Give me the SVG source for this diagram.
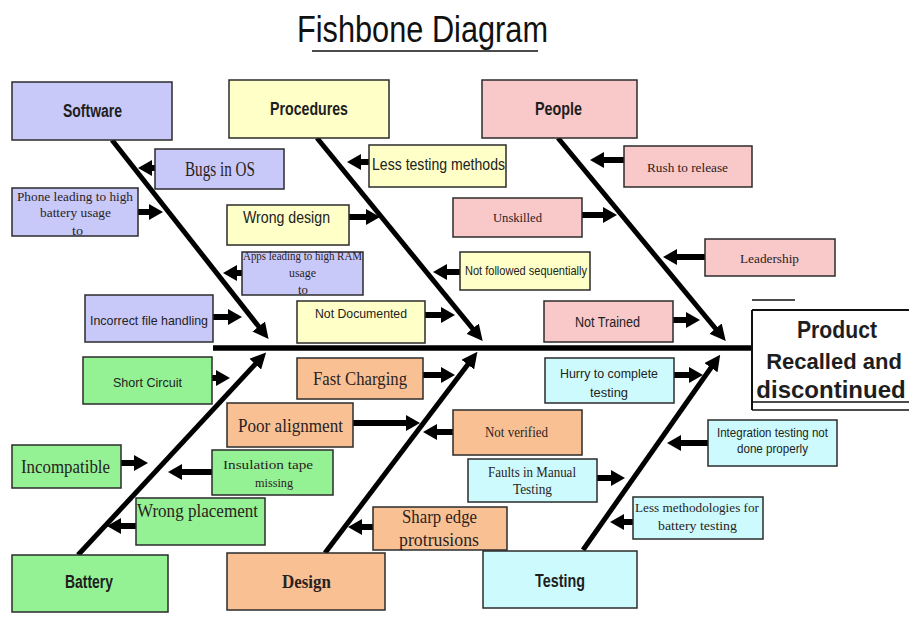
<svg xmlns="http://www.w3.org/2000/svg" width="909" height="627" viewBox="0 0 909 627">
<defs>
<style>
.b{stroke:#2b2b2b;stroke-width:1.5}
.sw{fill:#c9c9f9}.pr{fill:#ffffc8}.pe{fill:#f9c8c8}.ba{fill:#94f294}.de{fill:#f9c193}.te{fill:#cdfbfd}
.h{font-family:"Liberation Sans",Arial,sans-serif;font-weight:bold;font-size:18px;fill:#1e1e1e}
.s{font-family:"Liberation Sans",Arial,sans-serif;fill:#222}
.r{font-family:"Liberation Serif","Times New Roman",serif;fill:#2a2222}
.bone{stroke:#000;stroke-width:5;fill:none}
.arr{stroke:#000;stroke-width:6;fill:none}
</style>
<marker id="hb" viewBox="0 0 16 16" refX="7" refY="8" markerWidth="16" markerHeight="16" markerUnits="userSpaceOnUse" orient="auto"><path d="M0,0 L16,8 L0,16 z" fill="#000"/></marker>
<marker id="ha" viewBox="0 0 14 16" refX="6" refY="8" markerWidth="14" markerHeight="16" markerUnits="userSpaceOnUse" orient="auto"><path d="M0,0 L14,8 L0,16 z" fill="#000"/></marker>
</defs>
<rect width="909" height="627" fill="#fff"/>
<g id="title">
<text x="297" y="42" font-family="'Liberation Sans',Arial,sans-serif" font-size="37" fill="#111" textLength="251" lengthAdjust="spacingAndGlyphs">Fishbone Diagram</text>
<line x1="312" y1="51" x2="538" y2="51" stroke="#111" stroke-width="1.5"/>
</g>
<g id="connectors">
<line class="bone" x1="213" y1="348" x2="752" y2="348" style="stroke-width:5.5"/>
<line class="bone" x1="112" y1="140" x2="263" y2="332" marker-end="url(#hb)"/>
<line class="bone" x1="317" y1="138" x2="477" y2="334" marker-end="url(#hb)"/>
<line class="bone" x1="558" y1="138" x2="720" y2="334" marker-end="url(#hb)"/>
<line class="bone" x1="78" y1="555" x2="260" y2="359" marker-end="url(#hb)"/>
<line class="bone" x1="325" y1="553" x2="472" y2="359" marker-end="url(#hb)"/>
<line class="bone" x1="583" y1="550" x2="715" y2="362" marker-end="url(#hb)"/>
<line class="arr" x1="155" y1="168" x2="146" y2="168" marker-end="url(#ha)"/>
<line class="arr" x1="138" y1="212" x2="155" y2="212" marker-end="url(#ha)"/>
<line class="arr" x1="349" y1="217" x2="372" y2="217" marker-end="url(#ha)"/>
<line class="arr" x1="369" y1="162" x2="355" y2="162" marker-end="url(#ha)"/>
<line class="arr" x1="624" y1="160" x2="598" y2="160" marker-end="url(#ha)"/>
<line class="arr" x1="582" y1="215" x2="609" y2="215" marker-end="url(#ha)"/>
<line class="arr" x1="242" y1="273" x2="231" y2="273" marker-end="url(#ha)"/>
<line class="arr" x1="460" y1="272" x2="441" y2="272" marker-end="url(#ha)"/>
<line class="arr" x1="705" y1="257" x2="671" y2="257" marker-end="url(#ha)"/>
<line class="arr" x1="213" y1="317" x2="234" y2="317" marker-end="url(#ha)"/>
<line class="arr" x1="425" y1="315" x2="447" y2="315" marker-end="url(#ha)"/>
<line class="arr" x1="673" y1="320" x2="692" y2="320" marker-end="url(#ha)"/>
<line class="arr" x1="212" y1="378" x2="222" y2="378" marker-end="url(#ha)"/>
<line class="arr" x1="423" y1="375" x2="447" y2="375" marker-end="url(#ha)"/>
<line class="arr" x1="353" y1="423" x2="412" y2="423" marker-end="url(#ha)"/>
<line class="arr" x1="453" y1="432" x2="431" y2="432" marker-end="url(#ha)"/>
<line class="arr" x1="674" y1="375" x2="695" y2="375" marker-end="url(#ha)"/>
<line class="arr" x1="708" y1="443" x2="675" y2="443" marker-end="url(#ha)"/>
<line class="arr" x1="597" y1="478" x2="617" y2="478" marker-end="url(#ha)"/>
<line class="arr" x1="633" y1="522" x2="618" y2="522" marker-end="url(#ha)"/>
<line class="arr" x1="373" y1="527" x2="356" y2="527" marker-end="url(#ha)"/>
<line class="arr" x1="121" y1="463" x2="140" y2="463" marker-end="url(#ha)"/>
<line class="arr" x1="212" y1="472" x2="176" y2="472" marker-end="url(#ha)"/>
<line class="arr" x1="136" y1="526" x2="115" y2="526" marker-end="url(#ha)"/>
</g>
<g id="effect">
<rect x="752" y="310" width="157" height="92" fill="#fff"/>
<line x1="752" y1="300" x2="795" y2="300" stroke="#111" stroke-width="1.5"/>
<line x1="752" y1="310" x2="909" y2="310" stroke="#111" stroke-width="2"/>
<line x1="752" y1="310" x2="752" y2="410" stroke="#111" stroke-width="2"/>
<line x1="752" y1="402" x2="909" y2="402" stroke="#111" stroke-width="1.5"/>
<line x1="752" y1="410" x2="909" y2="410" stroke="#111" stroke-width="1.5"/>
<text x="837" y="338" class="h" style="font-size:24px" text-anchor="middle" textLength="80" lengthAdjust="spacingAndGlyphs">Product</text>
<text x="834" y="369" class="h" style="font-size:22px" text-anchor="middle">Recalled and</text>
<text x="831" y="398" class="h" style="font-size:24px" text-anchor="middle">discontinued</text>
</g>
<g id="software"><rect class="b sw" x="12" y="82" width="160" height="58"/><text class="h" x="63" y="117" textLength="59" lengthAdjust="spacingAndGlyphs">Software</text></g>
<g id="procedures"><rect class="b pr" x="229" y="80" width="160" height="58"/><text class="h" x="270" y="115" textLength="78" lengthAdjust="spacingAndGlyphs">Procedures</text></g>
<g id="people"><rect class="b pe" x="482" y="80" width="155" height="58"/><text class="h" x="535" y="115" textLength="47" lengthAdjust="spacingAndGlyphs">People</text></g>
<g id="battery"><rect class="b ba" x="12" y="555" width="156" height="57"/><text class="h" x="65" y="588" textLength="48" lengthAdjust="spacingAndGlyphs">Battery</text></g>
<g id="design"><rect class="b de" x="227" y="553" width="158" height="57"/><text class="r" x="282" y="588" style="font-size:19px;font-weight:bold" textLength="49" lengthAdjust="spacingAndGlyphs">Design</text></g>
<g id="testing"><rect class="b te" x="483" y="551" width="154" height="57"/><text class="h" x="535" y="587" textLength="50" lengthAdjust="spacingAndGlyphs">Testing</text></g>
<g id="bugs-in-os"><rect class="b sw" x="155" y="149" width="129" height="40"/><text class="r" x="185" y="176" style="font-size:20px" textLength="70" lengthAdjust="spacingAndGlyphs">Bugs in OS</text></g>
<g id="phone-battery"><rect class="b sw" x="12" y="188" width="126" height="48"/>
<text class="r" x="17" y="201" style="font-size:13px" textLength="116" lengthAdjust="spacingAndGlyphs">Phone leading to high</text>
<text class="r" x="40" y="217" style="font-size:13px" textLength="71" lengthAdjust="spacingAndGlyphs">battery usage</text>
<text class="r" x="72" y="235" style="font-size:13px" textLength="11" lengthAdjust="spacingAndGlyphs">to</text></g>
<g id="wrong-design"><rect class="b pr" x="227" y="205" width="122" height="40"/><text class="s" x="243" y="223" style="font-size:17px" textLength="87" lengthAdjust="spacingAndGlyphs">Wrong design</text></g>
<g id="less-testing-methods"><rect class="b pr" x="369" y="145" width="137" height="42"/><text class="s" x="372" y="170" style="font-size:17px" textLength="133" lengthAdjust="spacingAndGlyphs">Less testing methods</text></g>
<g id="rush-to-release"><rect class="b pe" x="624" y="146" width="128" height="41"/><text class="r" x="647" y="172" style="font-size:13px" textLength="81" lengthAdjust="spacingAndGlyphs">Rush to release</text></g>
<g id="unskilled"><rect class="b pe" x="453" y="198" width="129" height="39"/><text class="r" x="493" y="222" style="font-size:13px" textLength="49" lengthAdjust="spacingAndGlyphs">Unskilled</text></g>
<g id="apps-ram"><rect class="b sw" x="242" y="252" width="121" height="43"/>
<text class="r" x="243" y="260" style="font-size:12px" textLength="119" lengthAdjust="spacingAndGlyphs">Apps leading to high RAM</text>
<text class="r" x="289" y="277" style="font-size:12px" textLength="27" lengthAdjust="spacingAndGlyphs">usage</text>
<text class="r" x="298" y="294" style="font-size:12px" textLength="10" lengthAdjust="spacingAndGlyphs">to</text></g>
<g id="not-followed"><rect class="b pr" x="460" y="252" width="130" height="38"/><text class="s" x="465" y="275" style="font-size:13px" textLength="122" lengthAdjust="spacingAndGlyphs">Not followed sequentially</text></g>
<g id="leadership"><rect class="b pe" x="705" y="239" width="130" height="37"/><text class="r" x="740" y="263" style="font-size:13px" textLength="59" lengthAdjust="spacingAndGlyphs">Leadership</text></g>
<g id="incorrect-file"><rect class="b sw" x="85" y="295" width="128" height="47"/><text class="s" x="90" y="325" style="font-size:13px" textLength="118" lengthAdjust="spacingAndGlyphs">Incorrect file handling</text></g>
<g id="not-documented"><rect class="b pr" x="297" y="301" width="128" height="42"/><text class="s" x="315" y="318" style="font-size:13px" textLength="92" lengthAdjust="spacingAndGlyphs">Not Documented</text></g>
<g id="not-trained"><rect class="b pe" x="544" y="301" width="129" height="41"/><text class="s" x="575" y="327" style="font-size:14px" textLength="65" lengthAdjust="spacingAndGlyphs">Not Trained</text></g>
<g id="short-circuit"><rect class="b ba" x="83" y="357" width="129" height="47"/><text class="s" x="113" y="387" style="font-size:13px" textLength="69" lengthAdjust="spacingAndGlyphs">Short Circuit</text></g>
<g id="fast-charging"><rect class="b de" x="297" y="358" width="126" height="41"/><text class="r" x="313" y="385" style="font-size:18px" textLength="94" lengthAdjust="spacingAndGlyphs">Fast Charging</text></g>
<g id="poor-alignment"><rect class="b de" x="227" y="403" width="126" height="44"/><text class="r" x="238" y="432" style="font-size:18px" textLength="105" lengthAdjust="spacingAndGlyphs">Poor alignment</text></g>
<g id="not-verified"><rect class="b de" x="453" y="410" width="129" height="45"/><text class="r" x="485" y="437" style="font-size:14px" textLength="63" lengthAdjust="spacingAndGlyphs">Not verified</text></g>
<g id="hurry"><rect class="b te" x="545" y="358" width="129" height="45"/>
<text class="s" x="560" y="378" style="font-size:13px" textLength="98" lengthAdjust="spacingAndGlyphs">Hurry to complete</text>
<text class="s" x="590" y="397" style="font-size:13px" textLength="38" lengthAdjust="spacingAndGlyphs">testing</text></g>
<g id="integration"><rect class="b te" x="708" y="420" width="129" height="46"/>
<text class="s" x="717" y="437" style="font-size:12px" textLength="111" lengthAdjust="spacingAndGlyphs">Integration testing not</text>
<text class="s" x="737" y="453" style="font-size:12px" textLength="71" lengthAdjust="spacingAndGlyphs">done properly</text></g>
<g id="faults-manual"><rect class="b te" x="468" y="459" width="129" height="43"/>
<text class="r" x="488" y="477" style="font-size:14px" textLength="88" lengthAdjust="spacingAndGlyphs">Faults in Manual</text>
<text class="r" x="513" y="494" style="font-size:14px" textLength="39" lengthAdjust="spacingAndGlyphs">Testing</text></g>
<g id="less-methodologies"><rect class="b te" x="633" y="497" width="130" height="42"/>
<text class="r" x="635" y="512" style="font-size:13px" textLength="124" lengthAdjust="spacingAndGlyphs">Less methodologies for</text>
<text class="r" x="658" y="530" style="font-size:13px" textLength="79" lengthAdjust="spacingAndGlyphs">battery testing</text></g>
<g id="sharp-edge"><rect class="b de" x="373" y="507" width="134" height="43"/>
<text class="r" x="402" y="523" style="font-size:18px" textLength="75" lengthAdjust="spacingAndGlyphs">Sharp edge</text>
<text class="r" x="399" y="546" style="font-size:18px" textLength="80" lengthAdjust="spacingAndGlyphs">protrusions</text></g>
<g id="incompatible"><rect class="b ba" x="12" y="445" width="109" height="43"/><text class="r" x="21" y="473" style="font-size:18px" textLength="89" lengthAdjust="spacingAndGlyphs">Incompatible</text></g>
<g id="insulation-tape"><rect class="b ba" x="212" y="450" width="121" height="45"/>
<text class="r" x="223" y="469" style="font-size:13px" textLength="90" lengthAdjust="spacingAndGlyphs">Insulation tape</text>
<text class="r" x="255" y="487" style="font-size:13px" textLength="38" lengthAdjust="spacingAndGlyphs">missing</text></g>
<g id="wrong-placement"><rect class="b ba" x="136" y="498" width="129" height="47"/><text class="r" x="137" y="517" style="font-size:18px" textLength="121" lengthAdjust="spacingAndGlyphs">Wrong placement</text></g>
</svg>
